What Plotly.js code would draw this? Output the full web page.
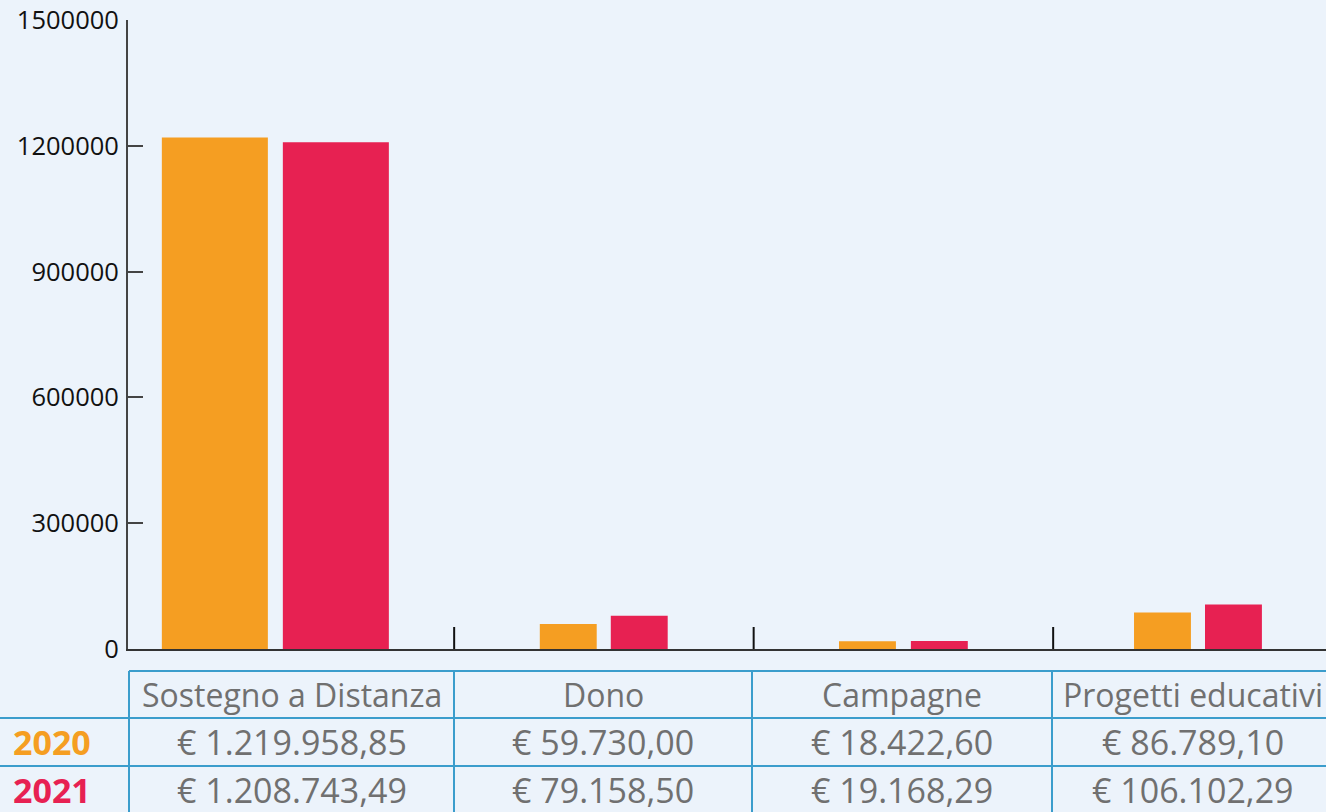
<!DOCTYPE html>
<html>
<head>
<meta charset="utf-8">
<script src="https://cdn.plot.ly/plotly-3.0.1.min.js"></script>
<style>
  html, body { margin: 0; padding: 0; background: #ecf3fb; }
  #chart { width: 1326px; height: 812px; }
</style>
</head>
<body>
<div id="chart"></div>
<script>
// ---- data ----
const categories = ['Sostegno a Distanza', 'Dono', 'Campagne', 'Progetti educativi'];
const years = ['2020', '2021'];
const values2020 = [1219958.85, 59730.00, 18422.60, 86789.10];
const values2021 = [1208743.49, 79158.50, 19168.29, 106102.29];
const yTicks = [0, 300000, 600000, 900000, 1200000, 1500000];

// ---- styles / layout constants ----
const W = 1326, H = 812;
const M = { l: 128, r: 0, t: 20, b: 163 };
const BG = '#ecf3fb';
const ORANGE = '#f59e22';
const RED = '#e72152';
const GRID = '#3b9dcc';
const TXT = '#707070';

const plotW = W - M.l - M.r, plotH = H - M.t - M.b;
const px2x = px => (px - M.l) / plotW;
const px2y = py => (H - M.b - py) / plotH;

function euro(v) {
  const parts = v.toFixed(2).split('.');
  const intPart = parts[0].replace(/\B(?=(\d{3})+(?!\d))/g, '.');
  return '€ ' + intPart + ',' + parts[1];
}

const widths = [0.354, 0.19, 0.19, 0.19];
const off2020 = [-0.476, -0.214, -0.215, -0.230];
const off2021 = [-0.072, 0.023, 0.025, 0.007];

const traces = [
  { type: 'bar', x: categories, y: values2020, name: years[0],
    marker: { color: ORANGE }, width: widths, offset: off2020, hoverinfo: 'x+y' },
  { type: 'bar', x: categories, y: values2021, name: years[1],
    marker: { color: RED }, width: widths, offset: off2021, hoverinfo: 'x+y' }
];

// table geometry (pixels)
const colEdges = [0, 129, 454, 752, 1052, 1334];
const rowEdges = [671, 718, 766, 814];

const shapes = [];
const annotations = [];

// separator ticks on the x axis between categories
[0.5, 1.5, 2.5].forEach(v => {
  shapes.push({ type: 'line', xref: 'x', yref: 'paper', x0: v, x1: v,
    y0: 0, y1: px2y(627), line: { color: '#111', width: 2 } });
});

// table lines
shapes.push({ type: 'line', xref: 'paper', yref: 'paper', x0: px2x(129), x1: px2x(1330),
  y0: px2y(671), y1: px2y(671), line: { color: GRID, width: 2 } });
[718, 766].forEach(py => shapes.push({ type: 'line', xref: 'paper', yref: 'paper',
  x0: px2x(-4), x1: px2x(1330), y0: px2y(py), y1: px2y(py), line: { color: GRID, width: 2 } }));
[129, 454, 752, 1052].forEach(pxv => shapes.push({ type: 'line', xref: 'paper', yref: 'paper',
  x0: px2x(pxv), x1: px2x(pxv), y0: px2y(671), y1: px2y(816), line: { color: GRID, width: 2 } }));

// header + values
const rowValues = [values2020, values2021];
categories.forEach((c, i) => {
  const cx = px2x((colEdges[i + 1] + colEdges[i + 2]) / 2);
  annotations.push({ xref: 'paper', yref: 'paper', x: cx, y: px2y((rowEdges[0] + rowEdges[1]) / 2),
    text: c, showarrow: false, xanchor: 'center', yanchor: 'middle',
    font: { family: 'Open Sans', size: 32, color: TXT } });
  rowValues.forEach((vals, r) => {
    annotations.push({ xref: 'paper', yref: 'paper', x: cx, y: px2y((rowEdges[r + 1] + rowEdges[r + 2]) / 2),
      text: euro(vals[i]), showarrow: false, xanchor: 'center', yanchor: 'middle',
      font: { family: 'Open Sans', size: 34, color: TXT } });
  });
});
years.forEach((yr, r) => {
  annotations.push({ xref: 'paper', yref: 'paper', x: px2x(11), y: px2y((rowEdges[r + 1] + rowEdges[r + 2]) / 2),
    text: '<b>' + yr + '</b>', showarrow: false, xanchor: 'left', yanchor: 'middle',
    font: { family: 'Open Sans', size: 34, color: r === 0 ? ORANGE : RED } });
});

const layout = {
  width: W, height: H,
  margin: M,
  paper_bgcolor: BG, plot_bgcolor: BG,
  showlegend: false,
  barmode: 'overlay',
  xaxis: {
    type: 'category', range: [-0.589, 3.411], fixedrange: true,
    showticklabels: false, ticks: '', showgrid: false, zeroline: false,
    showline: true, linecolor: '#333', linewidth: 2
  },
  yaxis: {
    range: [0, 1500000], tickvals: yTicks, tickformat: 'd',
    ticks: 'inside', ticklen: 15, tickwidth: 2, tickcolor: '#444',
    showline: true, linecolor: '#444', linewidth: 2,
    showgrid: false, zeroline: false, ticklabelstandoff: 2,
    tickfont: { family: 'Open Sans', size: 25.5, color: '#111' }
  },
  shapes: shapes,
  annotations: annotations
};

Plotly.newPlot('chart', traces, layout, { displayModeBar: false, staticPlot: true });
</script>
</body>
</html>
